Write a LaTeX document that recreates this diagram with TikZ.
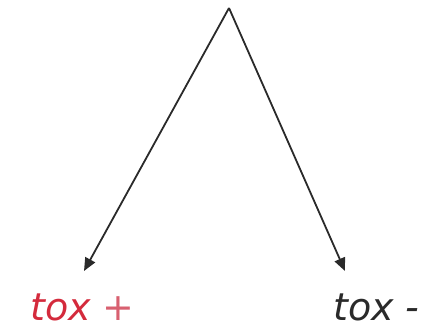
\documentclass[tikz,border=0pt]{standalone}
\usepackage{fontspec}
\setmainfont{DejaVu Sans}
\usetikzlibrary{arrows.meta}
\definecolor{toxred}{HTML}{D42A3C}
\definecolor{plusred}{HTML}{D86070}
\definecolor{linegray}{HTML}{2A2A2A}
\tikzset{
  conn/.style={draw=linegray, line width=1.8pt, -{Triangle[length=13pt,width=11pt]}},
  label/.style={inner sep=0pt, font=\fontsize{38}{40}\selectfont\itshape}
}
\begin{document}
\begin{tikzpicture}[x=1pt,y=-1pt]
\useasboundingbox (0,0) rectangle (436,332);
\coordinate (apex) at (229,8);
\coordinate (lend) at (84,271);
\coordinate (rend) at (345,271);
\node[label, anchor=base west] (tp) at (30,320) {\textcolor{toxred}{tox} \textcolor{plusred}{+}};
\node[label, anchor=base west, text=linegray] (tm) at (333,320) {tox -};
\draw[conn] (apex) -- (lend);
\draw[conn] (apex) -- (rend);
\end{tikzpicture}
\end{document}
